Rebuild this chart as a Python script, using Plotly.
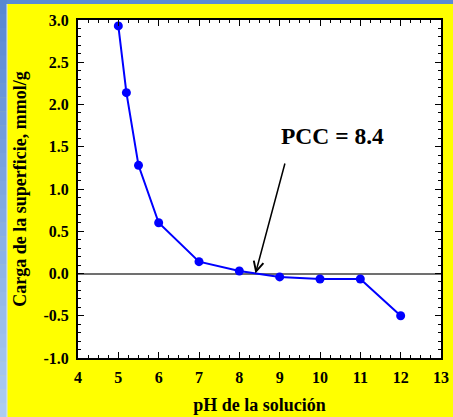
import plotly.graph_objects as go

ph = [5, 5.2, 5.5, 6, 7, 8, 9, 10, 11, 12]
carga = [2.93, 2.14, 1.28, 0.60, 0.14, 0.03, -0.04, -0.065, -0.065, -0.50]
x_ticks = [4, 5, 6, 7, 8, 9, 10, 11, 12, 13]
y_ticks = [-1.0, -0.5, 0.0, 0.5, 1.0, 1.5, 2.0, 2.5, 3.0]
y_labels = ["-1.0", "-0.5", "0.0", "0.5", "1.0", "1.5", "2.0", "2.5", "3.0"]
pcc = 8.4
pcc_label = "PCC = 8.4"

W, H = 453, 417
L, R, T, B = 78, 12, 20, 59
pw, ph_ = W - L - R, H - T - B

def px_x(p):
    return (p - L) / pw

def px_y(p):
    return (H - B - p) / ph_

FONT = "Liberation Serif, Times New Roman, serif"

fig = go.Figure()
fig.add_trace(go.Scatter(
    x=ph, y=carga, mode="lines+markers",
    line=dict(color="#0000FF", width=2),
    marker=dict(color="#0000FF", size=9),
    showlegend=False,
))

shapes = []
# top strip
shapes.append(dict(type="rect", xref="paper", yref="paper",
                   x0=px_x(0), x1=px_x(W), y0=px_y(4), y1=px_y(0),
                   fillcolor="rgb(90,140,212)", line=dict(width=0), layer="below"))
# left gradient strip
n = 30
c0 = (88, 136, 210)
c1 = (172, 204, 242)
for i in range(n):
    t = i / (n - 1)
    c = tuple(int(round(a + (b - a) * t)) for a, b in zip(c0, c1))
    y0p = H * i / n
    y1p = H * (i + 1) / n + 0.5
    shapes.append(dict(type="rect", xref="paper", yref="paper",
                       x0=px_x(0), x1=px_x(7), y0=px_y(y1p), y1=px_y(y0p),
                       fillcolor="rgb(%d,%d,%d)" % c, line=dict(width=0), layer="below"))
shapes.append(dict(type="line", xref="paper", yref="paper",
                   x0=px_x(7), x1=px_x(7), y0=px_y(H), y1=px_y(4),
                   line=dict(color="rgb(215,230,250)", width=1), layer="below"))

fig.update_layout(
    template="none",
    width=W, height=H,
    margin=dict(l=L, r=R, t=T, b=B),
    paper_bgcolor="#FFFF00",
    plot_bgcolor="#FFFFFF",
    font=dict(family=FONT, color="black", size=16),
    shapes=shapes,
    annotations=[
        dict(x=pcc, y=0.0, ax=9.14, ay=1.32, xref="x", yref="y", axref="x", ayref="y",
             text="", showarrow=True, arrowhead=5, arrowsize=1.3, arrowwidth=1.5,
             arrowcolor="black", standoff=0),
        dict(x=10.3, y=1.63, xref="x", yref="y", text=pcc_label, showarrow=False,
             font=dict(family=FONT, size=23.5, color="black", weight="bold")),
    ],
)

fig.update_xaxes(
    automargin=False,
    range=[4, 13], tickvals=x_ticks, ticktext=[str(v) for v in x_ticks],
    showgrid=False, zeroline=False,
    showline=True, linecolor="black", linewidth=2, mirror="allticks",
    ticks="inside", ticklen=6, tickwidth=1, tickcolor="black",
    minor=dict(dtick=0.25, ticks="inside", ticklen=3, tickcolor="black", tickwidth=1, showgrid=False),
    tickfont=dict(family=FONT, size=16, weight="bold"),
    ticklabelstandoff=4,
    title=dict(text="pH de la solución", font=dict(family=FONT, size=18, weight="bold"), standoff=13),
)
fig.update_yaxes(
    automargin=False,
    range=[-1.0, 3.0], tickvals=y_ticks, ticktext=y_labels,
    showgrid=False, zeroline=True, zerolinecolor="#707070", zerolinewidth=2,
    showline=True, linecolor="black", linewidth=2, mirror="allticks",
    ticks="inside", ticklen=6, tickwidth=1, tickcolor="black",
    minor=dict(dtick=0.1, ticks="inside", ticklen=3, tickcolor="black", tickwidth=1, showgrid=False),
    tickfont=dict(family=FONT, size=16, weight="bold"),
    ticklabelstandoff=4,
    title=dict(text="Carga de la superficie, mmol/g", font=dict(family=FONT, size=18, weight="bold"), standoff=12),
)

fig.write_html("out.html")
